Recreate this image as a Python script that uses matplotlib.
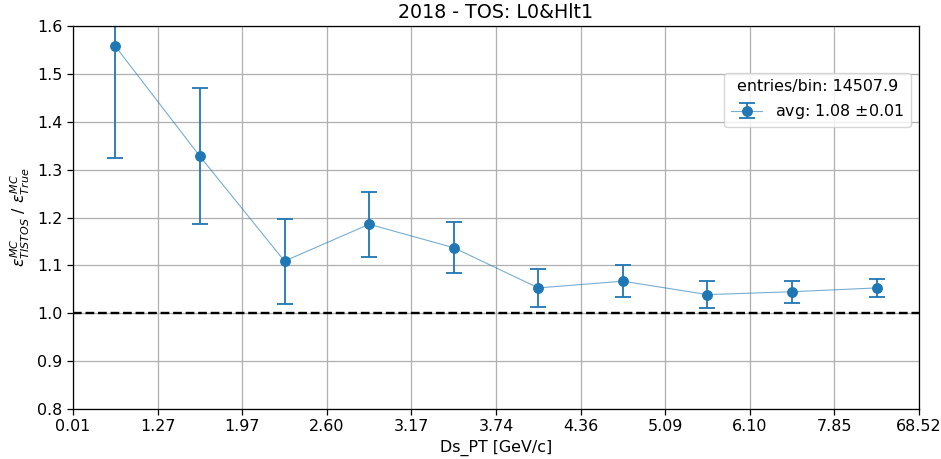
import matplotlib
matplotlib.use("Agg")
import matplotlib.pyplot as plt
import numpy as np

bin_edges = ["0.01", "1.27", "1.97", "2.60", "3.17", "3.74", "4.36", "5.09", "6.10", "7.85", "68.52"]
ratio = [1.558, 1.328, 1.109, 1.186, 1.137, 1.053, 1.067, 1.039, 1.045, 1.053]
ratio_err = [0.234, 0.142, 0.089, 0.068, 0.053, 0.040, 0.034, 0.028, 0.023, 0.019]
legend_title = "entries/bin: 14507.9"
legend_label = "avg: 1.08 $\\pm$0.01"

s = 1.14
plt.rcParams.update({
    'font.size': 10 * s,
    'axes.titlesize': 12 * s,
    'axes.linewidth': 0.8 * s,
    'grid.linewidth': 0.8 * s,
    'xtick.major.width': 0.8 * s,
    'ytick.major.width': 0.8 * s,
    'xtick.major.size': 3.5 * s,
    'ytick.major.size': 3.5 * s,
})

fig = plt.figure(figsize=(9.41, 4.59), dpi=100)
ax = fig.add_axes([0.0776, 0.109, 0.899, 0.834])

x = np.arange(len(ratio)) + 0.5
cont = ax.errorbar(x, ratio, yerr=ratio_err, fmt='o-', color='#1f77b4', lw=0.8,
                   elinewidth=1.3, capsize=5.5, capthick=1.3, markersize=6.8,
                   label=legend_label)
cont[0].set_color((0.12, 0.47, 0.71, 0.6))
cont[0].set_markerfacecolor('#1f77b4')
cont[0].set_markeredgecolor('#1f77b4')
ax.axhline(1.0, color='black', ls='--', lw=1.7)

ax.set_xlim(0, len(ratio))
ax.set_ylim(0.8, 1.6)
ax.set_xticks(np.arange(len(bin_edges)))
ax.set_xticklabels(bin_edges)
ax.grid(True)
ax.set_xlabel("Ds_PT [GeV/c]")
ax.set_ylabel(r"$\varepsilon^{MC}_{TISTOS}$ / $\varepsilon^{MC}_{True}$")
ax.set_title("2018 - TOS: L0&Hlt1")
ax.legend(title=legend_title, loc='upper right', bbox_to_anchor=(0.990, 0.878),
          borderaxespad=0, title_fontsize=10 * s)

fig.savefig("out.png", dpi=100)
